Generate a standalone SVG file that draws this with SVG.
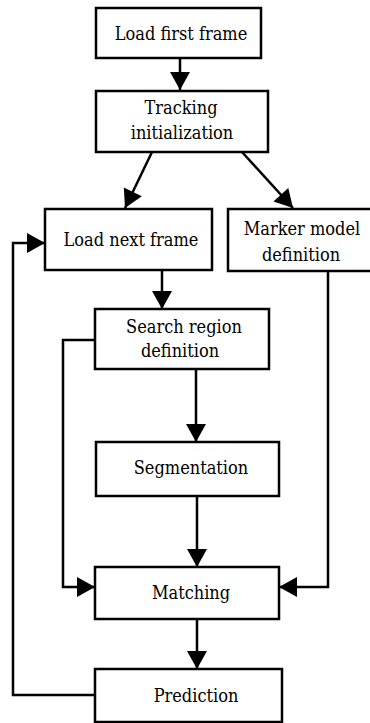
<svg xmlns="http://www.w3.org/2000/svg" width="370" height="723" viewBox="0 0 370 723">
  <style>
    .box { fill: #ffffff; stroke: #000000; stroke-width: 2.5; }
    .lbl { font-family: 'DejaVu Serif Condensed', 'DejaVu Serif', serif; font-stretch: condensed; font-size: 18px; fill: #000000; text-anchor: middle; }
    .edge { fill: none; stroke: #000000; stroke-width: 2.5; marker-end: url(#head); }
  </style>
  <defs>
    <marker id="head" markerUnits="userSpaceOnUse" markerWidth="18" markerHeight="20" refX="18" refY="10" orient="auto" overflow="visible">
      <path d="M0,0 L18,10 L0,20 Z" fill="#000000"/>
    </marker>
  </defs>
  <rect width="370" height="723" fill="#ffffff"/>

  <g id="connectors">
    <line class="edge" x1="180" y1="58" x2="180" y2="90"/>
    <line class="edge" x1="152" y1="152" x2="125" y2="208"/>
    <line class="edge" x1="242" y1="152" x2="293" y2="208"/>
    <line class="edge" x1="162" y1="270" x2="162" y2="309"/>
    <line class="edge" x1="196" y1="369" x2="196" y2="442"/>
    <line class="edge" x1="197" y1="496" x2="197" y2="567"/>
    <line class="edge" x1="197" y1="619" x2="197" y2="669"/>
    <polyline class="edge" points="95,340 63,340 63,587 95,587"/>
    <polyline class="edge" points="328,271 328,587 279,587"/>
    <polyline class="edge" points="95,695 13,695 13,243 45,243"/>
  </g>

  <g id="load-first-frame">
    <rect class="box" x="96" y="8" width="165" height="50"/>
    <text class="lbl" x="181" y="40">Load first frame</text>
  </g>
  <g id="tracking-initialization">
    <rect class="box" x="96" y="91" width="172" height="61"/>
    <text class="lbl" x="181" y="114">Tracking</text>
    <text class="lbl" x="182" y="139">initialization</text>
  </g>
  <g id="load-next-frame">
    <rect class="box" x="45" y="209" width="167" height="61"/>
    <text class="lbl" x="131" y="246">Load next frame</text>
  </g>
  <g id="marker-model-definition">
    <rect class="box" x="228" y="209" width="145" height="62"/>
    <text class="lbl" x="302" y="235">Marker model</text>
    <text class="lbl" x="301" y="261">definition</text>
  </g>
  <g id="search-region-definition">
    <rect class="box" x="95" y="309" width="174" height="60"/>
    <text class="lbl" x="184" y="333">Search region</text>
    <text class="lbl" x="180" y="357">definition</text>
  </g>
  <g id="segmentation">
    <rect class="box" x="96" y="442" width="183" height="54"/>
    <text class="lbl" x="191" y="474">Segmentation</text>
  </g>
  <g id="matching">
    <rect class="box" x="95" y="567" width="184" height="52"/>
    <text class="lbl" x="191" y="599">Matching</text>
  </g>
  <g id="prediction">
    <rect class="box" x="95" y="669" width="187" height="53"/>
    <text class="lbl" x="196" y="702">Prediction</text>
  </g>
</svg>
